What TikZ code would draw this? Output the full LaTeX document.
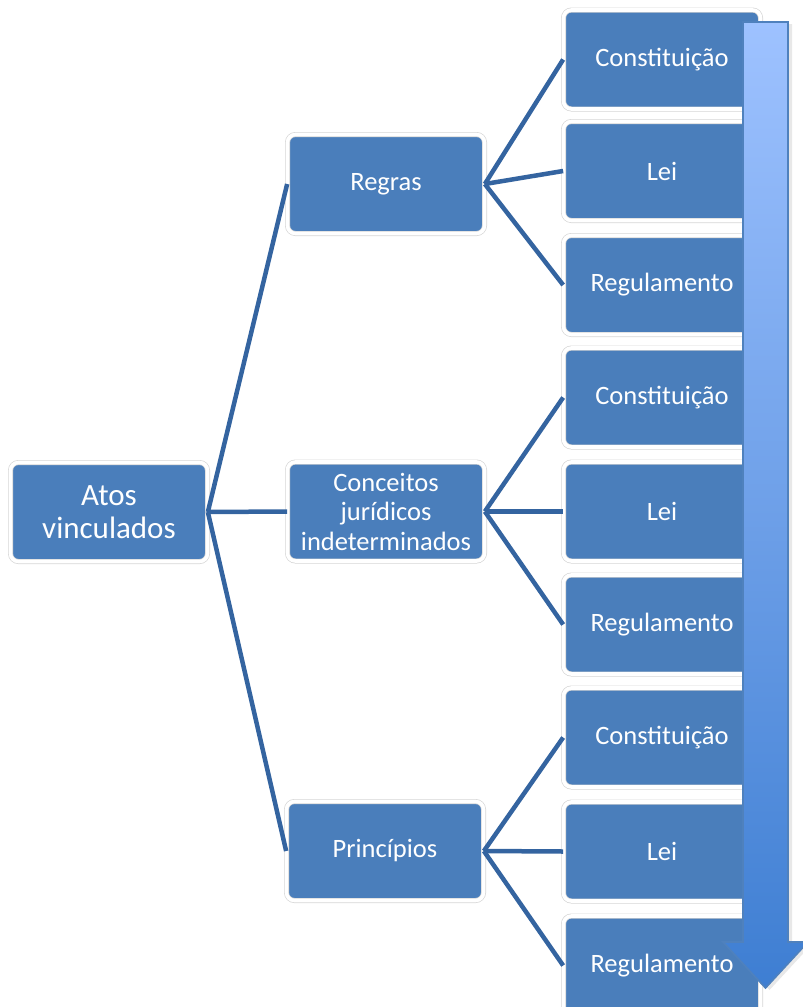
\documentclass[tikz,border=0pt]{standalone}
\usepackage{fontspec}
\setmainfont{Carlito}
\usepackage{xcolor}
\definecolor{boxblue}{RGB}{74,126,187}
\definecolor{linkblue}{RGB}{52,100,160}
\definecolor{rimgray}{RGB}{214,214,214}
\definecolor{arrowtop}{RGB}{158,194,255}
\definecolor{arrowbottom}{RGB}{62,126,210}
\definecolor{arrowline}{RGB}{79,129,189}
\usetikzlibrary{shadows}

\begin{document}
\begin{tikzpicture}[x=1pt,y=-1pt,
tile/.style={draw=rimgray,line width=0.7pt,double=white,double distance=3.6pt,rounded corners=8pt,fill=boxblue,text=white,align=center,minimum width=197pt,minimum height=99pt,inner sep=2pt},
root/.style={tile,font=\fontsize{31}{33}\selectfont},
branch/.style={tile,font=\fontsize{26.5}{29.5}\selectfont},
leaf/.style={tile,font=\fontsize{26.5}{29.5}\selectfont},
link/.style={draw=linkblue,line width=4.5pt},
flow/.style={draw=arrowline,line width=1.6pt,top color=arrowtop,bottom color=arrowbottom,drop shadow={opacity=0.18,shadow xshift=4pt,shadow yshift=-2pt}}]
\useasboundingbox (0,0) rectangle (803,1007);
\node[root]   (atos) at (109,512) {Atos\\vinculados};
\node[branch] (regras) at (386,184) {Regras};
\node[branch] (conceitos) at (386,511.5) {Conceitos\\jurídicos\\indeterminados};
\node[branch] (principios) at (385,851) {Princípios};
\node[leaf] (r1) at (662,59.5) {Constituição};
\node[leaf] (r2) at (662,171) {Lei};
\node[leaf] (r3) at (662,285) {Regulamento};
\node[leaf] (c1) at (662,397.5) {Constituição};
\node[leaf] (c2) at (662,511.5) {Lei};
\node[leaf] (c3) at (662,624.5) {Regulamento};
\node[leaf] (p1) at (662,737.5) {Constituição};
\node[leaf] (p2) at (662,851.5) {Lei};
\node[leaf] (p3) at (662,965.5) {Regulamento};
\draw[link] (atos.east)--(regras.west); \draw[link] (atos.east)--(conceitos.west); \draw[link] (atos.east)--(principios.west);
\draw[link] (regras.east)--(r1.west); \draw[link] (regras.east)--(r2.west); \draw[link] (regras.east)--(r3.west);
\draw[link] (conceitos.east)--(c1.west); \draw[link] (conceitos.east)--(c2.west); \draw[link] (conceitos.east)--(c3.west);
\draw[link] (principios.east)--(p1.west); \draw[link] (principios.east)--(p2.west); \draw[link] (principios.east)--(p3.west);
% hierarchy arrow
\draw[flow] (743,22) -- (788,22) -- (788,942) -- (808,942) -- (765.5,988) -- (723,942) -- (743,942) -- cycle;
\end{tikzpicture}
\end{document}
